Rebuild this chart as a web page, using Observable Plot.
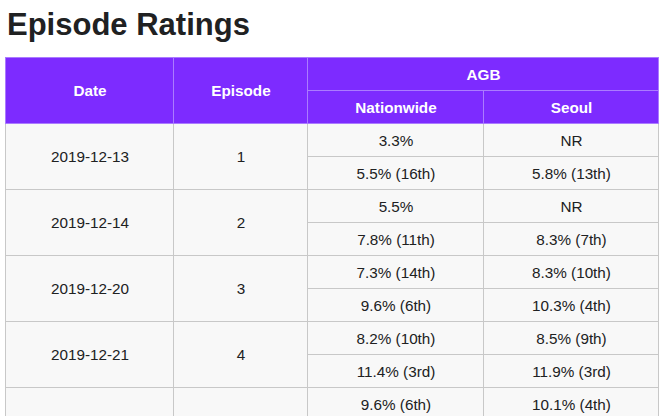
<!DOCTYPE html>
<html><head><meta charset="utf-8">
<script src="https://cdn.jsdelivr.net/npm/d3@7"></script>
<script src="https://cdn.jsdelivr.net/npm/@observablehq/plot@0.6"></script>
<style>
html,body{margin:0;padding:0;background:#fff;overflow:hidden;}
h1{margin:0;height:56px;box-sizing:border-box;padding:8.75px 0 0 7px;font:700 31px/31px "Liberation Sans",Arial,sans-serif;color:#202122;}
#chart svg{display:block;}
</style></head><body>
<h1>Episode Ratings</h1>
<div id="chart"></div>
<script>
// ---- data ----
const dates = ["2019-12-13", "2019-12-14", "2019-12-20", "2019-12-21", "2019-12-27"];
const episodes = ["1", "2", "3", "4", "5"];
const nationwide = [
  ["3.3%", "5.5% (16th)"],
  ["5.5%", "7.8% (11th)"],
  ["7.3% (14th)", "9.6% (6th)"],
  ["8.2% (10th)", "11.4% (3rd)"],
  ["9.6% (6th)", "12.4% (3rd)"]
];
const seoul = [
  ["NR", "5.8% (13th)"],
  ["NR", "8.3% (7th)"],
  ["8.3% (10th)", "10.3% (4th)"],
  ["8.5% (9th)", "11.9% (3rd)"],
  ["10.1% (4th)", "13.0% (2nd)"]
];
const headerLabels = ["Date", "Episode", "AGB"];
const subHeaderLabels = ["Nationwide", "Seoul"];

// ---- layout ----
const W = 660, H = 360;
const colEdges = [5.5, 173.5, 307.5, 483.5, 658.5];
const top0 = 1.5, rowH = 33;
const PURPLE = "#7d2bff";

const header = [];
header.push({x1: colEdges[0], x2: colEdges[1], y1: top0, y2: top0 + 2 * rowH, label: headerLabels[0]});
header.push({x1: colEdges[1], x2: colEdges[2], y1: top0, y2: top0 + 2 * rowH, label: headerLabels[1]});
header.push({x1: colEdges[2], x2: colEdges[4], y1: top0, y2: top0 + rowH, label: headerLabels[2]});
subHeaderLabels.forEach((s, j) => header.push({x1: colEdges[2 + j], x2: colEdges[3 + j], y1: top0 + rowH, y2: top0 + 2 * rowH, label: s}));

const body = [];
dates.forEach((d, i) => {
  const y = top0 + 2 * rowH + i * 2 * rowH;
  body.push({x1: colEdges[0], x2: colEdges[1], y1: y, y2: y + 2 * rowH, label: d});
  body.push({x1: colEdges[1], x2: colEdges[2], y1: y, y2: y + 2 * rowH, label: episodes[i]});
  for (let j = 0; j < 2; j++) {
    body.push({x1: colEdges[2], x2: colEdges[3], y1: y + j * rowH, y2: y + (j + 1) * rowH, label: nationwide[i][j]});
    body.push({x1: colEdges[3], x2: colEdges[4], y1: y + j * rowH, y2: y + (j + 1) * rowH, label: seoul[i][j]});
  }
});
const cx = c => (c.x1 + c.x2) / 2;
const cy = c => (c.y1 + c.y2) / 2 + 0.5;

const plot = Plot.plot({
  width: W, height: H,
  margin: 0,
  x: {type: "identity", axis: null},
  y: {type: "identity", axis: null},
  style: {fontFamily: "'Liberation Sans', Arial, sans-serif", fontSize: "15.25px", background: "white", overflow: "hidden"},
  marks: [
    Plot.rect(body, {x1: "x1", x2: "x2", y1: "y1", y2: "y2", fill: "#f8f8f8", stroke: "#c8c8c8", strokeWidth: 1}),
    Plot.rect(header, {x1: "x1", x2: "x2", y1: "y1", y2: "y2", fill: PURPLE, stroke: "#ab7bff", strokeWidth: 1}),
    Plot.text(body, {x: cx, y: cy, text: "label", fill: "#202122", textAnchor: "middle", lineAnchor: "middle"}),
    Plot.text(header, {x: cx, y: cy, text: "label", fill: "white", fontWeight: "bold", textAnchor: "middle", lineAnchor: "middle"})
  ]
});
document.getElementById("chart").appendChild(plot);
</script>
</body></html>
